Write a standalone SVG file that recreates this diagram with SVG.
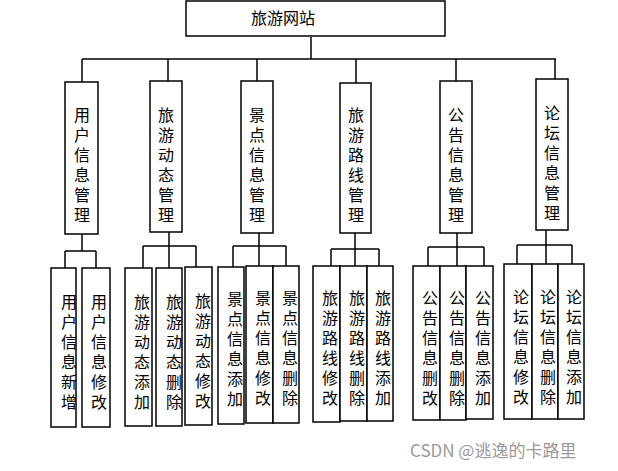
<svg xmlns="http://www.w3.org/2000/svg" width="618" height="471" viewBox="0 0 618 471">
<style>
rect{fill:#fff;stroke:#000;stroke-width:1.5}
.c line{stroke:#000;stroke-width:1.5}
text{font-family:"Noto Sans CJK SC","Liberation Sans",sans-serif;font-size:16px;fill:#000;text-anchor:middle}
.v{writing-mode:vertical-rl;letter-spacing:4px}
.w{font-size:17px;fill:#999;text-anchor:start}
</style>
<g id="root"><rect x="186" y="1" width="259" height="35"/><text x="283" y="24">旅游网站</text></g>
<g class="c">
<line x1="311" y1="37" x2="311" y2="59"/><line x1="82" y1="59" x2="556" y2="59"/>
<line x1="82" y1="59" x2="82" y2="82"/><line x1="168" y1="59" x2="168" y2="81"/><line x1="257" y1="59" x2="257" y2="81"/><line x1="356" y1="59" x2="356" y2="83"/><line x1="456" y1="59" x2="456" y2="81"/><line x1="555" y1="59" x2="555" y2="79"/>
<line x1="82" y1="234" x2="82" y2="251"/><line x1="65" y1="251" x2="96" y2="251"/><line x1="65" y1="251" x2="65" y2="268"/><line x1="96" y1="251" x2="96" y2="268"/>
<line x1="169" y1="232" x2="169" y2="268"/><line x1="143" y1="246" x2="196" y2="246"/><line x1="143" y1="246" x2="143" y2="268"/><line x1="196" y1="246" x2="196" y2="267"/>
<line x1="259" y1="233" x2="259" y2="266"/><line x1="233" y1="246" x2="286" y2="246"/><line x1="233" y1="246" x2="233" y2="267"/><line x1="286" y1="246" x2="286" y2="266"/>
<line x1="355" y1="233" x2="355" y2="266"/><line x1="331" y1="249" x2="379" y2="249"/><line x1="331" y1="249" x2="331" y2="266"/><line x1="379" y1="249" x2="379" y2="266"/>
<line x1="457" y1="233" x2="457" y2="266"/><line x1="428" y1="247" x2="484" y2="247"/><line x1="428" y1="247" x2="428" y2="266"/><line x1="484" y1="247" x2="484" y2="266"/>
<line x1="546" y1="230" x2="546" y2="264"/><line x1="517" y1="245" x2="572" y2="245"/><line x1="517" y1="245" x2="517" y2="264"/><line x1="572" y1="245" x2="572" y2="264"/>
</g>
<g id="n1"><rect x="65" y="82" width="33" height="152"/><text class="v" x="82" y="167">用户信息管理</text></g>
<g id="n2"><rect x="150" y="81" width="32" height="151"/><text class="v" x="166" y="167">旅游动态管理</text></g>
<g id="n3"><rect x="241" y="81" width="32" height="152"/><text class="v" x="257" y="167">景点信息管理</text></g>
<g id="n4"><rect x="340" y="83" width="31" height="150"/><text class="v" x="356" y="167">旅游路线管理</text></g>
<g id="n5"><rect x="440" y="81" width="32" height="152"/><text class="v" x="456" y="167">公告信息管理</text></g>
<g id="n6"><rect x="536" y="79" width="32" height="151"/><text class="v" x="552" y="165">论坛信息管理</text></g>
<g id="l1a"><rect x="51" y="268" width="25" height="159"/><text class="v" x="69" y="354">用户信息新增</text></g>
<g id="l1b"><rect x="82" y="268" width="28" height="159"/><text class="v" x="99" y="354">用户信息修改</text></g>
<g id="l2a"><rect x="125" y="268" width="27" height="158"/><text class="v" x="142" y="354">旅游动态添加</text></g>
<g id="l2b"><rect x="156" y="268" width="26" height="158"/><text class="v" x="174" y="354">旅游动态删除</text></g>
<g id="l2c"><rect x="185" y="267" width="27" height="158"/><text class="v" x="203" y="353">旅游动态修改</text></g>
<g id="l3a"><rect x="218" y="267" width="26" height="157"/><text class="v" x="235" y="351">景点信息添加</text></g>
<g id="l3b"><rect x="246" y="266" width="27" height="157"/><text class="v" x="263" y="350">景点信息修改</text></g>
<g id="l3c"><rect x="273" y="266" width="26" height="157"/><text class="v" x="290" y="350">景点信息删除</text></g>
<g id="l4a"><rect x="313" y="266" width="27" height="156"/><text class="v" x="330" y="350">旅游路线修改</text></g>
<g id="l4b"><rect x="340" y="266" width="27" height="155"/><text class="v" x="357" y="350">旅游路线删除</text></g>
<g id="l4c"><rect x="367" y="266" width="26" height="155"/><text class="v" x="383" y="350">旅游路线添加</text></g>
<g id="l5a"><rect x="413" y="266" width="27" height="154"/><text class="v" x="430" y="350">公告信息删改</text></g>
<g id="l5b"><rect x="440" y="266" width="26" height="154"/><text class="v" x="457" y="350">公告信息删除</text></g>
<g id="l5c"><rect x="466" y="266" width="27" height="153"/><text class="v" x="483" y="350">公告信息添加</text></g>
<g id="l6a"><rect x="504" y="264" width="28" height="155"/><text class="v" x="521" y="349">论坛信息修改</text></g>
<g id="l6b"><rect x="532" y="264" width="26" height="155"/><text class="v" x="548" y="349">论坛信息删除</text></g>
<g id="l6c"><rect x="558" y="264" width="26" height="155"/><text class="v" x="574" y="349">论坛信息添加</text></g>
<text class="w" x="410" y="457">CSDN @逃逸的卡路里</text>
</svg>
